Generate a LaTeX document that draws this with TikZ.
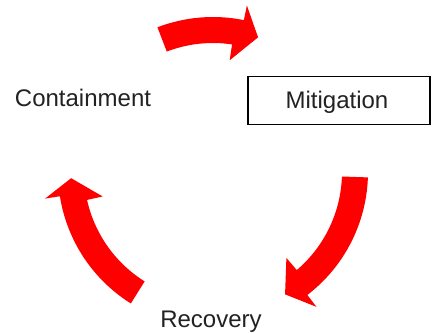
\documentclass[tikz,border=0pt]{standalone}
\usepackage{fontspec}
\setmainfont{Liberation Sans}
\definecolor{cyclered}{HTML}{FF0000}
\definecolor{labelgray}{HTML}{222222}
% curved block arrow around the cycle centre
% #1 tail angle, #2 outer head-base angle, #3 inner head-base angle, #4 tip angle
\newcommand\cyclearrow[4]{%
  \fill[cyclered] (#1:155) arc[start angle=#1, end angle=#2, radius=155]
    -- (#2:170) -- (#4:142) -- (#3:113) -- (#3:129)
    arc[start angle=#3, end angle=#1, radius=129] -- cycle;}
\begin{document}
\begin{tikzpicture}[x=1pt,y=1pt,
  phase/.style={font=\fontsize{24}{28}\selectfont, text=labelgray, inner sep=0pt},
  phasebox/.style={draw=black, line width=1.8pt, minimum width=182pt, minimum height=48pt}]
\useasboundingbox (0,0) rectangle (436,332);
\fill[white] (0,0) rectangle (436,332);

\node[phase, anchor=base] (containment) at (83,225) {Containment};
\node[phasebox] (mitigationbox) at (339,231.5) {};
\node[phase, anchor=base] (mitigation) at (337,223) {Mitigation};
\node[phase, anchor=base] (recovery) at (211,5) {Recovery};

\begin{scope}[shift={(213,160)}]
  \cyclearrow{111}{78.5}{81.5}{71.5}
  \cyclearrow{-2}{-52.5}{-49.5}{-59.5}
  \cyclearrow{238}{189}{192.5}{182.5}
\end{scope}
\end{tikzpicture}
\end{document}
